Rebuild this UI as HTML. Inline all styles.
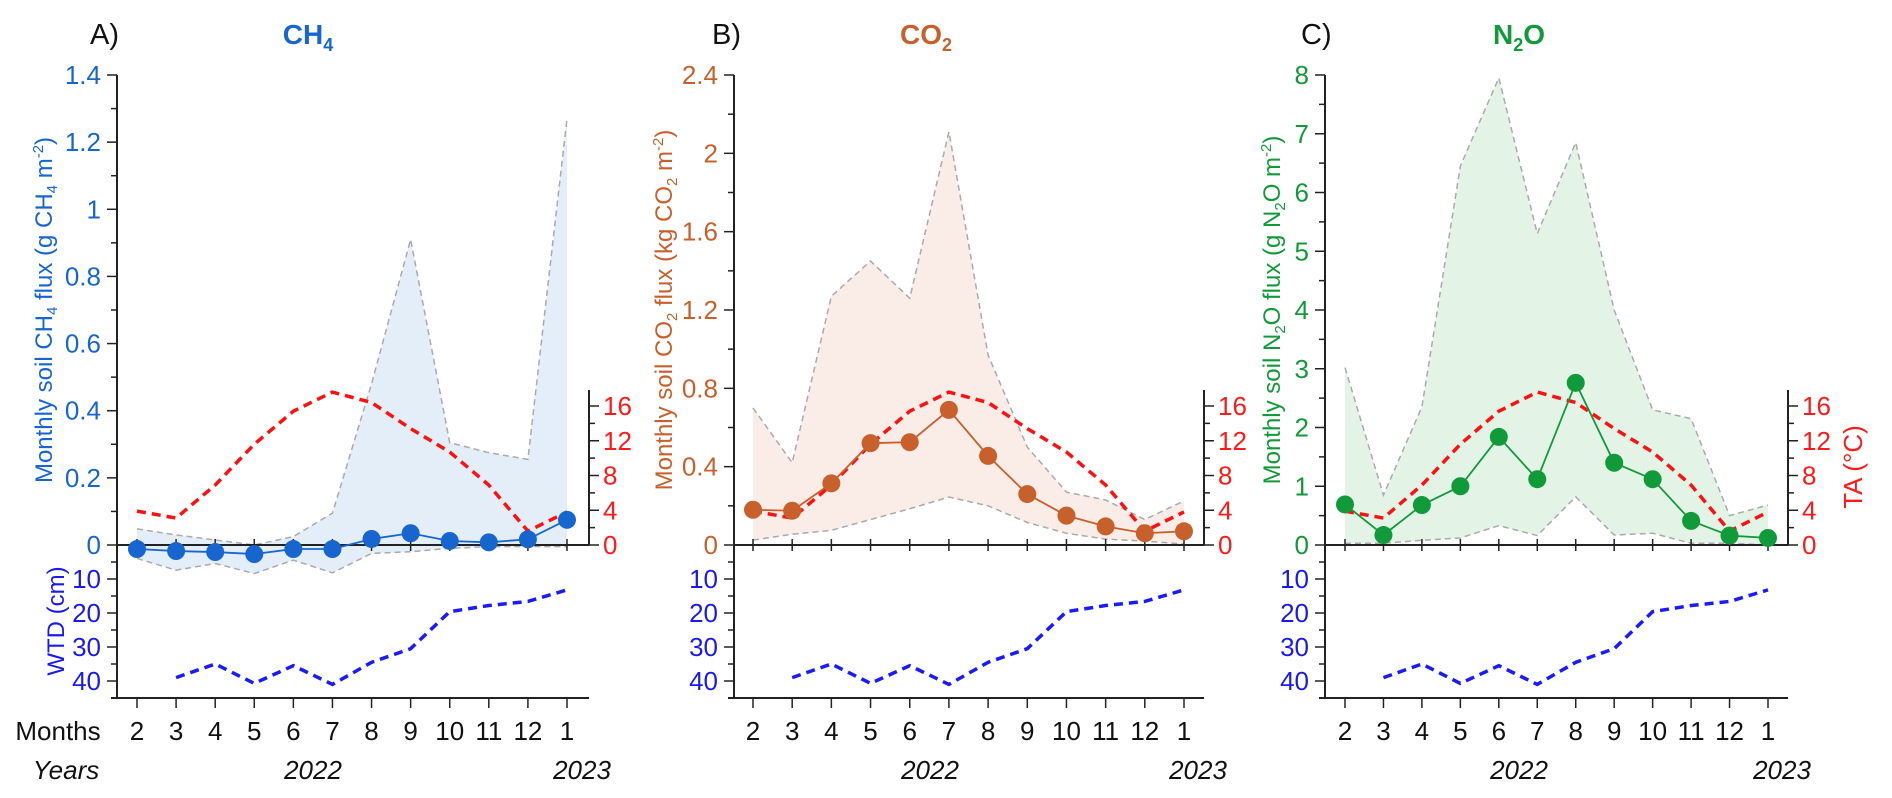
<!DOCTYPE html>
<html><head><meta charset="utf-8">
<style>
html,body{margin:0;padding:0;background:#fff;}
svg{display:block;font-family:"Liberation Sans",Arial,sans-serif;}
</style></head>
<body>
<svg id="chart" width="1892" height="798" viewBox="0 0 1892 798" xmlns="http://www.w3.org/2000/svg"></svg>
<script>
const months = ["2","3","4","5","6","7","8","9","10","11","12","1"];
const taValues = [3.9,3.1,6.9,11.6,15.4,17.6,16.4,13.4,10.7,6.9,1.6,3.8];
const wtdValues = [null,39,35,40.7,35.5,41,34.5,30.5,19.6,17.8,16.6,13.2];
const ch4Mean = [-0.012,-0.018,-0.021,-0.027,-0.012,-0.012,0.018,0.035,0.012,0.008,0.017,0.075];
const ch4Upper = [0.048,0.03,0.015,0.0,0.025,0.095,0.48,0.91,0.305,0.275,0.255,1.27];
const ch4Lower = [-0.04,-0.075,-0.055,-0.085,-0.045,-0.083,-0.025,-0.02,-0.01,-0.005,-0.005,-0.005];
const co2Mean = [0.18,0.175,0.315,0.52,0.525,0.69,0.455,0.26,0.15,0.095,0.06,0.07];
const co2Upper = [0.70,0.42,1.27,1.45,1.26,2.11,0.97,0.5,0.27,0.23,0.13,0.225];
const co2Lower = [0.025,0.055,0.075,0.13,0.185,0.245,0.2,0.115,0.06,0.03,0.02,0.005];
const n2oMean = [0.69,0.17,0.68,1.0,1.84,1.12,2.76,1.4,1.12,0.41,0.16,0.12];
const n2oUpper = [3.02,0.85,2.35,6.45,7.95,5.3,6.85,4.0,2.3,2.15,0.5,0.68];
const n2oLower = [0.03,0.03,0.08,0.12,0.33,0.16,0.82,0.17,0.2,0.03,0.03,0.0];
const ch4Ticks = ["0","0.2","0.4","0.6","0.8","1","1.2","1.4"];
const co2Ticks = ["0","0.4","0.8","1.2","1.6","2","2.4"];
const n2oTicks = ["0","1","2","3","4","5","6","7","8"];
const taTicks = ["0","4","8","12","16"];
const wtdTicks = ["10","20","30","40"];

const svg = document.getElementById('chart');
const NS = "http://www.w3.org/2000/svg";
function mk(tag, attrs, parent){
  const e = document.createElementNS(NS, tag);
  for (const k in attrs) e.setAttribute(k, attrs[k]);
  (parent||svg).appendChild(e);
  return e;
}
const Y0 = 545, YTOP = 75, YBOT = 698, TATOP = 390;
const FS = 26;
const taScale = v => Y0 - v*(Y0-406)/16;
const wtdScale = v => Y0 + v*(681-Y0)/40;

const panels = [
  {id:"ch4", letter:"A)", lx:90, title:"CH", sub:"4", tx:308, color:"#1766d0", fill:"#e4eef9",
   axL:117, x0:137, x1:567, axR:589, max:1.4, ticks:ch4Ticks, step:0.2,
   mean:ch4Mean, up:ch4Upper, lo:ch4Lower, ylab:["Monthly soil CH","4"," flux (g CH","4"," m","-2",")"], ylx:52,
   y22:313, y23:582, first:true},
  {id:"co2", letter:"B)", lx:712, title:"CO", sub:"2", tx:926, color:"#c8602c", fill:"#faede8",
   axL:734, x0:753, x1:1184, axR:1204, max:2.4, ticks:co2Ticks, step:0.4,
   mean:co2Mean, up:co2Upper, lo:co2Lower, ylab:["Monthly soil CO","2"," flux (kg CO","2"," m","-2",")"], ylx:672,
   y22:930, y23:1198},
  {id:"n2o", letter:"C)", lx:1301, title:"N", sub:"2", title2:"O", tx:1519, color:"#119a3a", fill:"#e3f4e7",
   axL:1325, x0:1345, x1:1768, axR:1788, max:8, ticks:n2oTicks, step:1,
   mean:n2oMean, up:n2oUpper, lo:n2oLower, ylab:["Monthly soil N","2","O flux (g N","2","O m","-2",")"], ylx:1280,
   y22:1519, y23:1782, ta:true}
];

panels.forEach(p => {
  const g = mk('g', {});
  
  
  const xs = i => p.x0 + i*(p.x1-p.x0)/(months.length-1);
  const ys = v => Y0 - v*(Y0-YTOP)/p.max;

  let d = "M" + p.up.map((v,i)=>xs(i)+","+ys(v)).join(" L");
  for (let i=p.lo.length-1;i>=0;i--) d += " L"+xs(i)+","+ys(p.lo[i]);
  const band = mk('path', {d:d+" Z", fill:p.fill, stroke:"none"}, g);
  
  
  const upL = mk('polyline', {points:p.up.map((v,i)=>xs(i)+","+ys(v)).join(" "), fill:"none", stroke:"#aaa", "stroke-width":1.5, "stroke-dasharray":"6,4"}, g);
  
  
  const loL = mk('polyline', {points:p.lo.map((v,i)=>xs(i)+","+ys(v)).join(" "), fill:"none", stroke:"#aaa", "stroke-width":1.5, "stroke-dasharray":"6,4"}, g);
  
  

  mk('line', {x1:p.axL, y1:YTOP, x2:p.axL, y2:YBOT, stroke:"#222", "stroke-width":2}, g);
  mk('line', {x1:p.axL-6, y1:YBOT, x2:p.axR, y2:YBOT, stroke:"#222", "stroke-width":2}, g);
  mk('line', {x1:p.axL, y1:Y0, x2:p.axR, y2:Y0, stroke:"#222", "stroke-width":2}, g);
  mk('line', {x1:p.axR, y1:TATOP, x2:p.axR, y2:Y0, stroke:"#222", "stroke-width":2}, g);

  for (let k=0;k<=p.ticks.length*2-2;k++){
    const v = k*p.step/2, y = ys(v);
    mk('line', {x1:p.axL-(k%2?6:10), y1:y, x2:p.axL, y2:y, stroke:"#222", "stroke-width":1.5}, g);
  }
  p.ticks.forEach((t,i)=>{
    const tx = mk('text', {x:p.axL-16, y:ys(i*p.step)+9, "text-anchor":"end", "font-size":FS, fill:p.color}, g);
    tx.textContent = t;
    
    
  });
  for (let v=5; v<=45; v+=5){
    const y = wtdScale(v);
    if (y>YBOT) break;
    mk('line', {x1:p.axL-(v%10?6:10), y1:y, x2:p.axL, y2:y, stroke:"#222", "stroke-width":1.5}, g);
  }
  wtdTicks.forEach(t=>{
    const tx = mk('text', {x:p.axL-16, y:wtdScale(+t)+9, "text-anchor":"end", "font-size":FS, fill:"#1a1aee"}, g);
    tx.textContent = t;
    
    
  });
  for (let v=0; v<=18; v+=2){
    const y = taScale(v);
    if (y<TATOP) break;
    mk('line', {x1:p.axR, y1:y, x2:p.axR+(v%4?6:10), y2:y, stroke:"#222", "stroke-width":1.5}, g);
  }
  taTicks.forEach(t=>{
    const tx = mk('text', {x:p.axR+14, y:taScale(+t)+9, "text-anchor":"start", "font-size":FS, fill:"#ff1a1a"}, g);
    tx.textContent = t;
    
    
  });
  months.forEach((m,i)=>{
    const x = xs(i);
    mk('line', {x1:x, y1:YBOT, x2:x, y2:YBOT+10, stroke:"#222", "stroke-width":1.5}, g);
    mk('line', {x1:x, y1:Y0-6, x2:x, y2:Y0+6, stroke:"#222", "stroke-width":1.5}, g);
    const tx = mk('text', {x:x, y:740, "text-anchor":"middle", "font-size":FS, fill:"#111"}, g);
    tx.textContent = m;
    
    
  });
  const t22 = mk('text', {x:p.y22, y:779, "text-anchor":"middle", "font-size":FS, "font-style":"italic", fill:"#111"}, g);
  t22.textContent = "2022";
  
  
  const t23 = mk('text', {x:p.y23, y:779, "text-anchor":"middle", "font-size":FS, "font-style":"italic", fill:"#111"}, g);
  t23.textContent = "2023";
  
  

  const ta = mk('polyline', {points:taValues.map((v,i)=>xs(i)+","+taScale(v)).join(" "), fill:"none", stroke:"#ff1010", "stroke-width":3.5, "stroke-dasharray":"9,6"}, g);
  
  
  const wpts = [];
  wtdValues.forEach((v,i)=>{ if (v!==null) wpts.push(xs(i)+","+wtdScale(v)); });
  const wl = mk('polyline', {points:wpts.join(" "), fill:"none", stroke:"#1a1aff", "stroke-width":3.5, "stroke-dasharray":"9,6"}, g);
  
  
  const ml = mk('polyline', {points:p.mean.map((v,i)=>xs(i)+","+ys(v)).join(" "), fill:"none", stroke:p.color, "stroke-width":1.8}, g);
  
  
  p.mean.forEach((v,i)=>{
    const c = mk('circle', {cx:xs(i), cy:ys(v), r:9, fill:p.color}, g);
    
    
  });

  const L = mk('text', {x:p.lx, y:44, "font-size":29, fill:"#111"}, g);
  L.textContent = p.letter;
  
  
  const T = mk('text', {x:p.tx, y:44, "text-anchor":"middle", "font-size":28, "font-weight":"bold", fill:p.color}, g);
  
  
  const s1 = mk('tspan', {}, T); s1.textContent = p.title;
  const s2 = mk('tspan', {"font-size":18, dy:7}, T); s2.textContent = p.sub;
  if (p.title2){ const s3 = mk('tspan', {dy:-7}, T); s3.textContent = p.title2; }

  const Y = mk('text', {x:0, y:0, "text-anchor":"middle", "font-size":24, fill:p.color, transform:"translate("+p.ylx+",310) rotate(-90)"}, g);
  
  
  p.ylab.forEach((s,i)=>{
    const sp = mk('tspan', {}, Y);
    if (i===1||i===3){ sp.setAttribute('font-size',15); sp.setAttribute('dy',5); }
    else if (i===5){ sp.setAttribute('font-size',15); sp.setAttribute('dy',-9); }
    else if (i===2||i===4){ sp.setAttribute('dy',-5); }
    else if (i===6){ sp.setAttribute('dy',9); }
    sp.textContent = s;
  });

  if (p.first){
    const W = mk('text', {x:0, y:0, "text-anchor":"middle", "font-size":24, fill:"#1a1aee", transform:"translate(64,621) rotate(-90)"}, g);
    W.textContent = "WTD (cm)";
    
    
    const M = mk('text', {x:58, y:740, "text-anchor":"middle", "font-size":FS, fill:"#111"}, g);
    M.textContent = "Months";
    
    
    const Yr = mk('text', {x:66, y:779, "text-anchor":"middle", "font-size":FS, "font-style":"italic", fill:"#111"}, g);
    Yr.textContent = "Years";
    
    
  }
  if (p.ta){
    const TA = mk('text', {x:0, y:0, "text-anchor":"middle", "font-size":26, fill:"#ff1a1a", transform:"translate(1862,467) rotate(-90)"}, g);
    TA.textContent = "TA (°C)";
    
    
  }
});
</script>
</body></html>
